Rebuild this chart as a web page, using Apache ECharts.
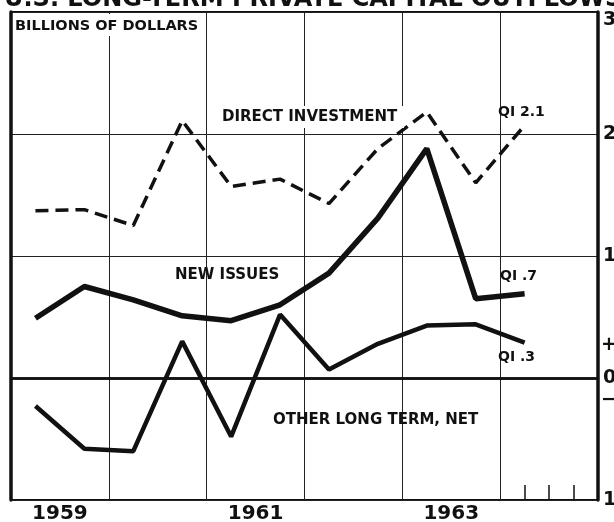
<!DOCTYPE html>
<html><head><meta charset="utf-8">
<script src="https://cdn.jsdelivr.net/npm/echarts@6/dist/echarts.min.js"></script>
<style>html,body{margin:0;padding:0;background:#fff;}#c{width:614px;height:522px;}</style>
</head><body><div id="c"></div>
<script>
const halfYears = ['1959H1','1959H2','1960H1','1960H2','1961H1','1961H2','1962H1','1962H2','1963H1','1963H2','1964Q1','1964H2'];
const years = ['1959','1960','1961','1962','1963','1964'];
const quarters = ['59Q1','59Q2','59Q3','59Q4','60Q1','60Q2','60Q3','60Q4','61Q1','61Q2','61Q3','61Q4','62Q1','62Q2','62Q3','62Q4','63Q1','63Q2','63Q3','63Q4','64Q1','64Q2','64Q3','64Q4'];
const directInvestment = [1.37, 1.38, 1.25, 2.11, 1.57, 1.63, 1.43, 1.88, 2.18, 1.60, 2.07];
const newIssues = [0.49, 0.75, 0.64, 0.51, 0.47, 0.60, 0.86, 1.31, 1.88, 0.65, 0.69];
const otherLongTerm = [-0.23, -0.58, -0.60, 0.30, -0.48, 0.52, 0.07, 0.28, 0.43, 0.44, 0.29];
const yTicks = [-1, 0, 1, 2, 3];
const yTickLabels = {'-1':'1','0':'0','1':'1','2':'2','3':'3'};

const F = '"DejaVu Sans", sans-serif';
const chart = echarts.init(document.getElementById('c'));
const txt = (x, y, s, size, align) => ({type:'text', x:x, y:y, style:{text:s, font:'bold '+size+'px '+F, fill:'#111', align:align||'left', verticalAlign:'middle'}, z:100});
chart.setOption({
  animation:false,
  backgroundColor:'#fff',
  grid:{left:11, right:16, top:12, bottom:22, show:true, borderColor:'#111', borderWidth:2, containLabel:false, outerBoundsMode:'none'},
  xAxis:[
    {type:'category', data:halfYears, boundaryGap:true, show:false},
    {type:'category', data:years, boundaryGap:true, position:'bottom',
      axisLine:{show:true, lineStyle:{color:'#111', width:2.5}}, axisTick:{show:false},
      splitLine:{show:true, interval:0, lineStyle:{color:'#222', width:1}},
      axisLabel:{interval:1, margin:4, color:'#111', fontFamily:F, fontWeight:'bold', fontSize:20}},
    {type:'category', data:quarters, boundaryGap:true, position:'bottom',
      axisLine:{show:false}, axisLabel:{show:false},
      axisTick:{show:true, inside:true, length:15, lineStyle:{color:'#111', width:1.5},
        interval:function(i){return i===21||i===22||i===23;}}}
  ],
  yAxis:[
    {type:'value', min:-1, max:3, interval:1, position:'right',
      axisLine:{show:true, lineStyle:{color:'#111', width:3.5}}, axisTick:{show:false},
      splitLine:{show:true, lineStyle:{color:'#222', width:1}},
      axisLabel:{show:true, margin:5, color:'#111', fontFamily:F, fontWeight:'bold', fontSize:19,
        formatter:function(v){return v===3 ? '{t|3}' : (yTickLabels[String(v)]||'');},
        rich:{t:{padding:[16,0,0,0], fontFamily:F, fontWeight:'bold', fontSize:19, color:'#111'}}}},
    {type:'value', min:-1, max:3, interval:1, position:'left',
      axisLine:{show:true, lineStyle:{color:'#111', width:3.5}}, axisTick:{show:false},
      axisLabel:{show:false}, splitLine:{show:false}}
  ],
  series:[
    {name:'DIRECT INVESTMENT', type:'line', data:directInvestment, symbol:'none',
      lineStyle:{color:'#111', width:3.5, type:[13,7]},
      markLine:{silent:true, symbol:'none', label:{show:false}, lineStyle:{color:'#111', width:2.5, type:'solid'}, data:[{yAxis:0}]}},
    {name:'NEW ISSUES', type:'line', data:newIssues, symbol:'none',
      lineStyle:{color:'#111', width:5.5}},
    {name:'OTHER LONG TERM, NET', type:'line', data:otherLongTerm, symbol:'none',
      lineStyle:{color:'#111', width:4.5}}
  ],
  graphic:[
    {type:'text', x:4, y:12, style:{text:'U.S. LONG-TERM PRIVATE CAPITAL OUTFLOWS', font:'bold 24px '+F, fill:'#111', align:'left', verticalAlign:'bottom'}, z:100},
    {type:'rect', shape:{x:100, y:14, width:16, height:22}, style:{fill:'#fff'}, z:50},
    txt(15, 26, 'BILLIONS OF DOLLARS', 14.5),
    {type:'rect', shape:{x:218, y:106, width:186, height:22}, style:{fill:'#fff'}, z:50},
    txt(222, 117, 'DIRECT INVESTMENT', 15),
    txt(498, 112, 'QI 2.1', 14),
    txt(175, 275, 'NEW ISSUES', 15),
    txt(500, 276, 'QI .7', 14),
    txt(498, 357, 'QI .3', 14),
    txt(273, 420, 'OTHER LONG TERM, NET', 15),
    txt(601, 345, '+', 19),
    txt(601, 400, '\u2212', 19)
  ]
});
</script></body></html>
